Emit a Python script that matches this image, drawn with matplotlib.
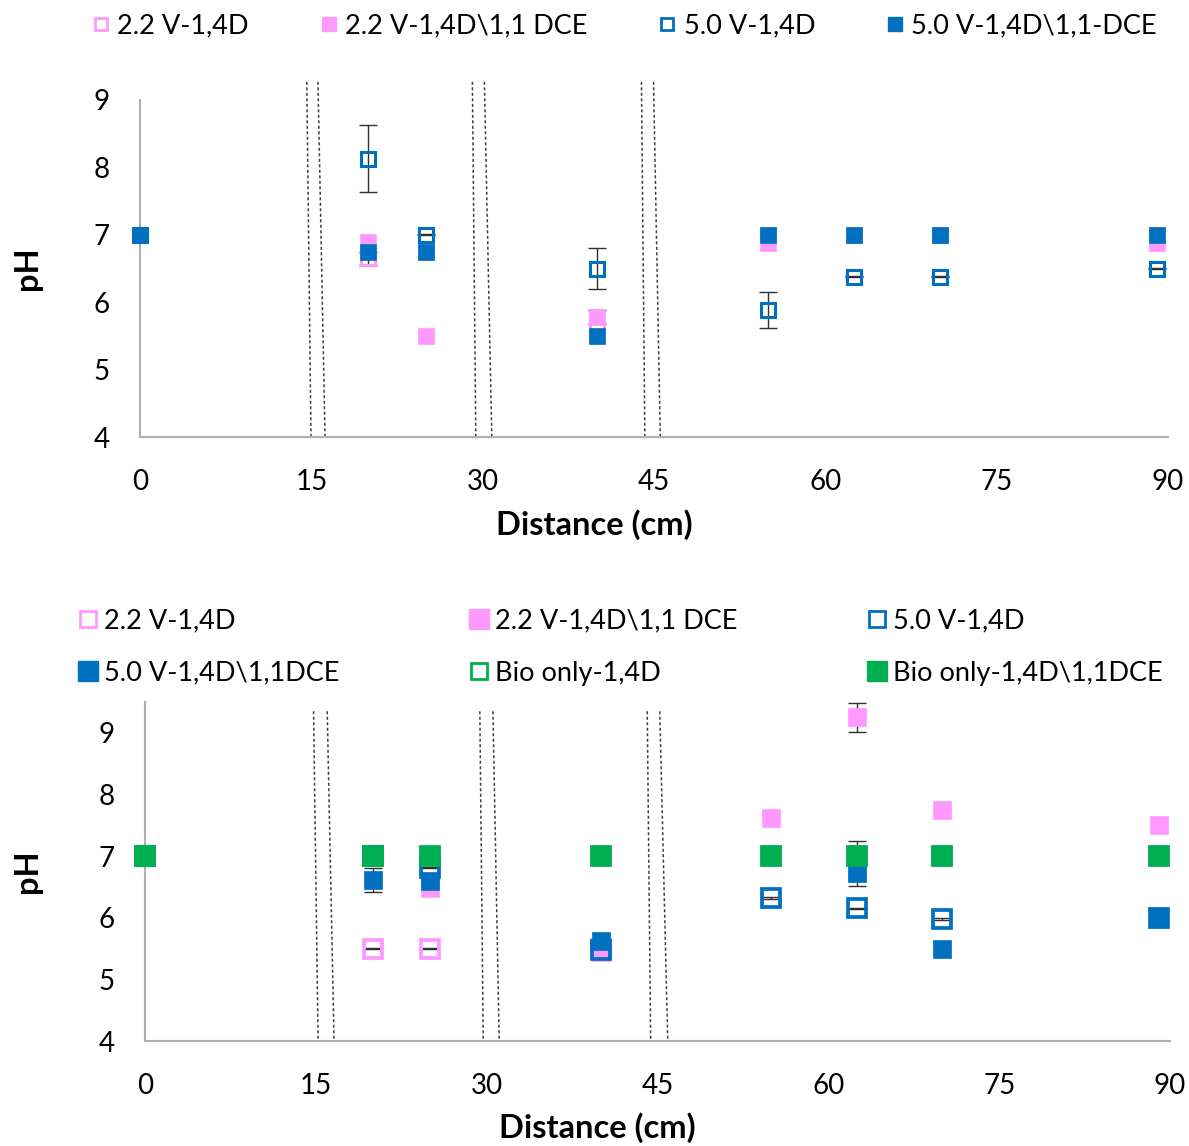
import numpy as np
import matplotlib.pyplot as plt
from matplotlib.lines import Line2D

plt.rcParams['font.family'] = ['Lato', 'DejaVu Sans']

# sampling positions (cm)
distance = [0, 20, 25, 40, 55, 62.5, 70, 89]

# upper panel - pH
top_22_14d = [7.0, 6.65, 6.75, 5.6, 7.0, 7.0, 7.0, 7.0]
top_22_dce = [7.0, 6.9, 5.5, 5.78, 6.88, 7.0, 7.0, 6.88]
top_50_14d = [7.0, 8.13, 7.0, 6.5, 5.88, 6.38, 6.38, 6.5]
top_50_dce = [7.0, 6.75, 6.75, 5.5, 7.0, 7.0, 7.0, 7.0]
# upper panel - std dev
top_22_14d_err = [0, 0.1, 0, 0, 0, 0, 0, 0]
top_22_dce_err = [0, 0, 0, 0.1, 0, 0, 0, 0]
top_50_14d_err = [0, 0.5, 0.01, 0.31, 0.27, 0.01, 0.01, 0.01]
top_50_dce_err = [0, 0, 0, 0, 0, 0, 0, 0]

# lower panel - pH
bot_22_14d = [7.0, 5.5, 5.5, 5.5, 7.0, 7.0, 7.0, 7.0]
bot_22_dce = [7.0, 7.0, 6.48, 5.45, 7.62, 9.25, 7.74, 7.5]
bot_50_14d = [7.0, 7.0, 6.81, 5.48, 6.32, 6.15, 5.98, 6.0]
bot_50_dce = [7.0, 6.61, 6.59, 5.62, 7.0, 6.72, 5.5, 6.0]
bot_bio_14d = [7.0, 7.0, 7.0, 7.0, 7.0, 7.0, 7.0, 7.0]
bot_bio_dce = [7.0, 7.0, 7.0, 7.0, 7.0, 7.0, 7.0, 7.0]
# lower panel - std dev
bot_22_14d_err = [0, 0.01, 0.01, 0, 0, 0.25, 0, 0]
bot_22_dce_err = [0, 0, 0, 0, 0, 0.24, 0, 0]
bot_50_14d_err = [0, 0, 0.01, 0, 0.01, 0.01, 0.01, 0]
bot_50_dce_err = [0, 0.2, 0, 0, 0, 0.2, 0, 0]
bot_bio_14d_err = [0, 0, 0, 0, 0, 0, 0, 0]
bot_bio_dce_err = [0, 0, 0, 0, 0, 0, 0, 0]

top_labels = ['2.2 V-1,4D', '2.2 V-1,4D\\1,1 DCE', '5.0 V-1,4D', '5.0 V-1,4D\\1,1-DCE']
bot_labels = ['2.2 V-1,4D', '2.2 V-1,4D\\1,1 DCE', '5.0 V-1,4D',
              '5.0 V-1,4D\\1,1DCE', 'Bio only-1,4D', 'Bio only-1,4D\\1,1DCE']

PINK = '#FF99FF'
BLUE = '#0070C0'
GREEN = '#00B050'

# (x at top, x at bottom) of the slanted break lines
top_breaks = [(14.6, 14.97), (15.58, 16.2), (29.1, 29.4), (30.15, 30.8), (43.9, 44.2), (44.96, 45.55)]
bot_breaks = [(14.8, 15.2), (16.0, 16.6), (29.4, 29.7), (30.55, 31.1), (44.1, 44.4), (45.2, 45.9)]


def draw_panel(ax, series, ms, hollow_ms, hollow_mew, ymax, breaks, break_top, ylab_x, xlab_xy):
    x = np.array(distance)
    # error bars below the markers, only where a deviation was measured
    for vals, err, col, filled in series:
        vals, err = np.array(vals), np.array(err)
        has = err > 0
        if not has.any():
            continue
        eb = ax.errorbar(x[has], vals[has], yerr=err[has], fmt='none', ecolor='#303030',
                         elinewidth=1, capsize=6.5, capthick=1, zorder=1)
        for art in eb.lines[1] + eb.lines[2]:
            art.set_clip_on(False)
    for i, (vals, err, col, filled) in enumerate(series):
        if filled:
            ax.plot(x, vals, ls='none', marker='s', ms=ms, mfc=col,
                    mec=col, mew=0.5, zorder=2 + i, clip_on=False)
        else:
            ax.plot(x, vals, ls='none', marker='s', ms=hollow_ms, mfc='none',
                    mec=col, mew=hollow_mew, zorder=2 + i, clip_on=False)
    for x0, x1 in breaks:
        ax.plot([x0, x1], [break_top, 4], color='#404040', lw=1.1,
                ls=(0, (2, 1.6)), clip_on=False, zorder=1)
    ax.set_xlim(0, 90)
    ax.set_ylim(4, ymax)
    ax.set_xticks(np.arange(0, 91, 15))
    ax.set_yticks(np.arange(4, 10, 1))
    for s in ['top', 'right']:
        ax.spines[s].set_visible(False)
    for s in ['left', 'bottom']:
        ax.spines[s].set_color('#B0B0B0')
        ax.spines[s].set_linewidth(1.5)
    ax.tick_params(axis='both', length=0, labelsize=20)
    ax.tick_params(axis='x', pad=23)
    ax.tick_params(axis='y', pad=22)
    ax.set_xlabel('Distance (cm)', fontsize=23.5, fontweight='bold')
    ax.set_ylabel('pH', fontsize=23.5, fontweight='bold')
    ax.xaxis.set_label_coords(*xlab_xy)
    ax.yaxis.set_label_coords(ylab_x, 0.5)


def legend_handle(col, filled, ms):
    if filled:
        return Line2D([], [], ls='none', marker='s', ms=ms, mfc=col, mec=col)
    return Line2D([], [], ls='none', marker='s', ms=ms - 2, mfc='none', mec=col, mew=2)


fig = plt.figure(figsize=(11.89, 11.46), dpi=100)

ax1 = fig.add_axes([140 / 1189, 1 - 437 / 1146, 1028 / 1189, 337 / 1146])
top_series = [
    (top_22_14d, top_22_14d_err, PINK, False),
    (top_22_dce, top_22_dce_err, PINK, True),
    (top_50_14d, top_50_14d_err, BLUE, False),
    (top_50_dce, top_50_dce_err, BLUE, True),
]
draw_panel(ax1, top_series, 12, 10.3, 2.2, 9, top_breaks, 9.27, -0.095, (0.4416, -0.215))

ax2 = fig.add_axes([145 / 1189, 1 - 1041 / 1146, 1025 / 1189, 339 / 1146])
bot_series = [
    (bot_22_14d, bot_22_14d_err, PINK, False),
    (bot_22_dce, bot_22_dce_err, PINK, True),
    (bot_50_14d, bot_50_14d_err, BLUE, False),
    (bot_50_dce, bot_50_dce_err, BLUE, True),
    (bot_bio_14d, bot_bio_14d_err, GREEN, False),
    (bot_bio_dce, bot_bio_dce_err, GREEN, True),
]
draw_panel(ax2, bot_series, 13, 12.8, 2.7, 9.5, bot_breaks, 9.35, -0.1, (0.441, -0.21))

# legends
h_top = [legend_handle(c, f, 10) for _, _, c, f in top_series]
fig.legend(h_top, top_labels, ncol=4, loc='center', bbox_to_anchor=(0.525, 1 - 26 / 1146),
           frameon=False, fontsize=19.5, handlelength=0.7, handletextpad=0.25,
           columnspacing=2.6)

h_bot = [legend_handle(c, f, 14) for _, _, c, f in bot_series]
order = [0, 3, 1, 4, 2, 5]
fig.legend([h_bot[i] for i in order], [bot_labels[i] for i in order], ncol=3,
           loc='center', bbox_to_anchor=(0.522, 1 - 647 / 1146), frameon=False,
           fontsize=19.5, handlelength=0.7, handletextpad=0.25, columnspacing=4.8,
           labelspacing=1.0)

fig.savefig('out.png', dpi=100)
